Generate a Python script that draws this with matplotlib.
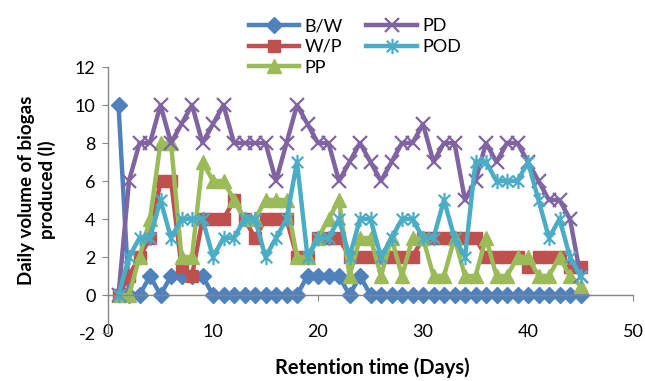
import numpy as np
import matplotlib
matplotlib.use("Agg")
import matplotlib.pyplot as plt
from matplotlib.path import Path

plt.rcParams['font.family'] = ['Lato', 'DejaVu Sans']
plt.rcParams['axes.unicode_minus'] = False

days = list(range(1, 46))

bw = [10, 0, 0, 1, 0, 1, 1, 1, 1, 0,
      0, 0, 0, 0, 0, 0, 0, 0, 1, 1,
      1, 1, 0, 1, 0, 0, 0, 0, 0, 0,
      0, 0, 0, 0, 0, 0, 0, 0, 0, 0,
      0, 0, 0, 0, 0]
wp = [0, 1, 2, 3, 6, 6, 1.5, 1, 4, 4,
      4, 5, 4, 3, 4, 4, 4, 2, 2, 3,
      3, 3, 2, 2, 2, 2, 2, 2, 2, 3,
      3, 3, 3, 3, 3, 2, 2, 2, 2, 1.5,
      2, 2, 2, 1.5, 1.5]
pp = [0, 0, 2, 4, 8, 8, 2, 2, 7, 6,
      6, 5, 4, 4, 5, 5, 5, 2, 2, 3,
      4, 5, 1, 3, 3, 1, 3, 1, 3, 3,
      1, 1, 3, 1, 1, 3, 1, 1, 2, 2,
      1, 1, 2, 1, 0.5]
pd_ = [0, 6, 8, 8, 10, 8, 9, 10, 8, 9,
       10, 8, 8, 8, 8, 6, 8, 10, 9, 8,
       8, 6, 7, 8, 7, 6, 7, 8, 8, 9,
       7, 8, 8, 5, 6, 8, 7, 8, 8, 7,
       6, 5, 5, 4, 1]
pod = [0, 2, 3, 3, 5, 3, 4, 4, 4, 2,
       3, 3, 4, 4, 2, 3, 4, 7, 2, 3,
       3, 4, 2, 4, 4, 2, 3, 4, 4, 3,
       3, 5, 3, 2, 7, 7, 6, 6, 6, 7,
       5, 3, 4, 2, 1]

xticks = [0, 10, 20, 30, 40, 50]
yticks = [-2, 0, 2, 4, 6, 8, 10, 12]

# Excel style asterisk marker: vertical stroke plus an x
star = Path([(0, -1), (0, 1), (-0.75, -0.75), (0.75, 0.75), (-0.75, 0.75), (0.75, -0.75)],
            [Path.MOVETO, Path.LINETO, Path.MOVETO, Path.LINETO, Path.MOVETO, Path.LINETO])

fig = plt.figure(figsize=(6.45, 3.81), dpi=100)
ax = fig.add_axes([108/645, 1-333/381, 525/645, 266/381])

lw = 3.2
ax.plot(days, bw, color='#4F81BD', lw=lw, marker='D', ms=8, label='B/W')
ax.plot(days, wp, color='#C0504D', lw=lw, marker='s', ms=9, label='W/P')
ax.plot(days, pp, color='#9BBB59', lw=lw, marker='^', ms=10, label='PP')
ax.plot(days, pd_, color='#8064A2', lw=lw, marker='x', ms=10, mew=1.6, label='PD')
ax.plot(days, pod, color='#4BACC6', lw=lw, marker=star, ms=11, mew=1.6, label='POD')

ax.set_xlim(0, 50)
ax.set_ylim(-2, 12)
ax.set_xticks(xticks, [str(t) for t in xticks])
ax.set_yticks(yticks, [str(t) for t in yticks])

gray = '#868686'
for s in ['top', 'right']:
    ax.spines[s].set_visible(False)
ax.spines['bottom'].set_position(('data', 0))
ax.spines['left'].set_position(('data', 0))
for s in ['bottom', 'left']:
    ax.spines[s].set_color(gray)
    ax.spines[s].set_linewidth(1)
ax.tick_params(axis='x', direction='out', length=4, color=gray, pad=17, labelsize=13)
ax.tick_params(axis='y', direction='out', length=4, color=gray, pad=5, labelsize=13)
for lab in ax.get_xticklabels():
    lab.set_clip_on(False)

fig.text(37/645, 1-190/381, 'Daily volume of biogas\nproduced (l)', rotation=90,
         ha='center', va='center', fontsize=13.5, fontweight='bold', multialignment='center')
fig.text(372/645, 1-368/381, 'Retention time (Days)', ha='center', va='center',
         fontsize=14.5, fontweight='bold')

fig.legend(loc='center', bbox_to_anchor=(355/645, 1-47/381), ncol=2, frameon=False,
           fontsize=13, handlelength=2.8, handletextpad=0.3, columnspacing=1.3,
           labelspacing=0.25)

fig.savefig('out.png', dpi=100)
